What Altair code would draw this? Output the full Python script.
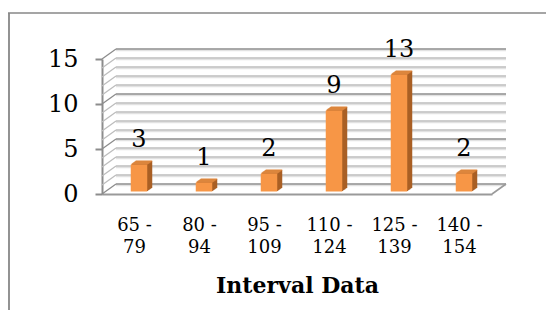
import altair as alt
import pandas as pd

categories = ["65 - 79", "80 - 94", "95 - 109", "110 - 124", "125 - 139", "140 - 154"]
counts = [3, 1, 2, 9, 13, 2]
grid_values = list(range(0, 16))
major_ticks = [0, 5, 10, 15]

FONT = "DejaVu Serif"
W, H = 390, 135
DX, DY = 14, -10          # depth of the 3D wall
BAR_DX, BAR_DY = 4.5, -2.5  # bar position inside the depth
EXT_DX, EXT_DY = 5, -3.5    # bar extrusion
BAR_W = 16.5

bars = pd.DataFrame({"cat": categories, "n": counts})
grid = pd.DataFrame({"v": grid_values})
grid["major"] = grid["v"] % 5 == 0

x_axis = alt.Axis(title="Interval Data", labelAngle=0, domain=True, grid=False,
                  domainColor="#9a9a9a", domainWidth=2, ticks=False,
                  labelFont=FONT, labelFontSize=18, labelColor="#000000",
                  labelLineHeight=22, labelPadding=22,
                  labelExpr="[slice(datum.label, 0, indexof(datum.label, '-') + 1), slice(datum.label, indexof(datum.label, '-') + 2)]",
                  titleFont=FONT, titleFontSize=22, titleFontWeight="bold",
                  titleColor="#000000", titlePadding=19)
y_axis = alt.Axis(title=None, values=major_ticks, grid=False,
                  domainColor="#8c8c8c", domainWidth=2,
                  tickColor="#8c8c8c", tickWidth=2, tickSize=7,
                  labelFont=FONT, labelFontSize=24, labelColor="#000000",
                  labelPadding=17)
xscale = alt.Scale(paddingInner=0, paddingOuter=0)
yscale = alt.Scale(domain=[0, 15], nice=False)

def X():
    return alt.X("cat:N", sort=categories, scale=xscale, axis=x_axis)

def Y(field):
    return alt.Y(field, scale=yscale, axis=y_axis)

gcolor = alt.condition("datum.major", alt.value("#8c8c8c"), alt.value("#bdbdbd"))

base = alt.Chart(bars)
layers = [base.mark_bar(size=BAR_W, opacity=0).encode(x=X(), y=Y("n:Q"))]

# frame border (left and top edges)
one = grid[grid.v == 0]
layers.append(alt.Chart(one).mark_rule(stroke="#878787", strokeWidth=1.8).encode(
    x=alt.value(-93), y=alt.value(-46), y2=alt.value(400)))
layers.append(alt.Chart(one).mark_rule(stroke="#878787", strokeWidth=1.6).encode(
    x=alt.value(-94), x2=alt.value(700), y=alt.value(-46)))

# back wall gridlines (shadow + line)
layers.append(alt.Chart(grid).mark_rule(strokeWidth=1.5, yOffset=DY + 1.6, color="#e2e2e2").encode(
    x=alt.value(DX), x2=alt.value(W + DX), y=Y("v:Q")))
layers.append(alt.Chart(grid).mark_rule(strokeWidth=1.6, yOffset=DY).encode(
    x=alt.value(DX), x2=alt.value(W + DX), y=Y("v:Q"), color=gcolor))
# side wall diagonals
layers.append(alt.Chart(grid).mark_rule(strokeWidth=1.3, y2Offset=DY).encode(
    x=alt.value(0), x2=alt.value(DX), y=Y("v:Q"), y2="v:Q", color=gcolor))
# floor right edge
layers.append(alt.Chart(one).mark_rule(strokeWidth=1.6, color="#9a9a9a", y2Offset=DY).encode(
    x=alt.value(W), x2=alt.value(W + DX), y=Y("v:Q"), y2="v:Q"))

steps = 6
for k in range(1, steps + 1):
    f = k / steps
    ox = BAR_DX + EXT_DX * f
    oy = BAR_DY + EXT_DY * f
    layers.append(base.mark_bar(size=BAR_W, color="#a95f24", xOffset=ox, x2Offset=ox,
                                yOffset=oy, y2Offset=oy).encode(x=X(), y=Y("n:Q")))
for k in range(1, steps + 1):
    f = k / steps
    ox = BAR_DX + EXT_DX * f
    oy = BAR_DY + EXT_DY * f
    layers.append(base.mark_tick(size=BAR_W, thickness=1.4, color="#e18a40",
                                 xOffset=ox, yOffset=oy).encode(x=X(), y=Y("n:Q")))

layers.append(base.mark_bar(size=BAR_W, color="#f79646", xOffset=BAR_DX, x2Offset=BAR_DX,
                            yOffset=BAR_DY, y2Offset=BAR_DY).encode(x=X(), y=Y("n:Q")))
layers.append(base.mark_text(font=FONT, fontSize=24, color="#000000", dx=BAR_DX, dy=-20,
                             baseline="alphabetic").encode(x=X(), y=Y("n:Q"), text="n:Q"))

chart = alt.layer(*layers).properties(
    width=W, height=H,
    padding={"left": 94, "top": 51, "right": 54, "bottom": 116},
    autosize=alt.AutoSizeParams(type="none"),
    background="#ffffff",
).configure_view(stroke=None)

chart.save("out.html", embed_options={"renderer": "svg", "actions": False})
